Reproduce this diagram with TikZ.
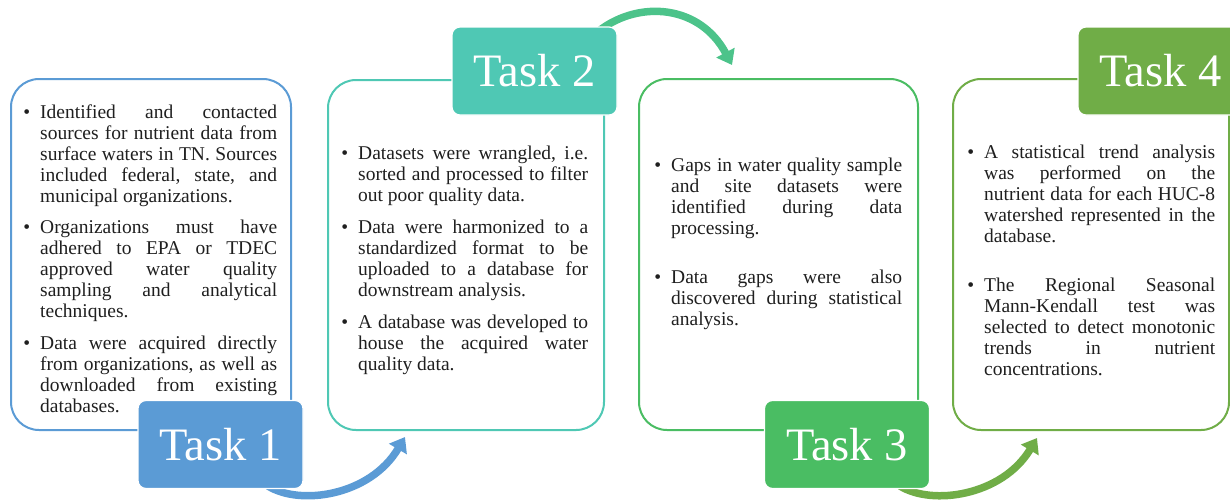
\documentclass[tikz,border=0pt]{standalone}
\usepackage{fontspec}
\setmainfont{Liberation Serif}
\usetikzlibrary{arrows.meta}

\definecolor{tblue}{HTML}{5B9BD5}
\definecolor{tteal}{HTML}{4FC8B4}
\definecolor{tmint}{HTML}{4CC38A}
\definecolor{tgreen}{HTML}{4ABD63}
\definecolor{tolive}{HTML}{70AD47}
\definecolor{ink}{HTML}{1F1F1F}

% one bulleted paragraph with a hanging indent
\newcommand\bitem[1]{\par\noindent\hangindent=15pt\hangafter=0
  \llap{\textbullet\hspace{10pt}}\rule{0pt}{15pt}#1\par}

\begin{document}
\begin{tikzpicture}[x=1pt,y=-1pt,
  panel/.style={draw=#1, line width=2pt, rounded corners=28pt, anchor=north west,
    inner sep=0pt, fill=white},
  body/.style={anchor=north west, inner sep=0pt, text width=#1, align=justify,
    text=ink, font=\fontsize{19.5pt}{21pt}\selectfont},
  tasklabel/.style={fill=#1, draw=white, line width=1.2pt, rounded corners=8pt,
    minimum width=165pt, minimum height=88pt, inner sep=0pt, text=white,
    font=\fontsize{46.5pt}{50pt}\selectfont},
  flow/.style={draw=#1, line width=7.5pt, -{Triangle[width=20pt,length=14pt]}}
]
\useasboundingbox (0,0) rectangle (1230,499);
\frenchspacing\tolerance=10000\hbadness=10000\hyphenpenalty=10000

% panels
\node[panel=tblue,  minimum width=280pt, minimum height=351pt] (p1) at (10,78) {};
\node[panel=tteal,  minimum width=276pt, minimum height=350pt] (p2) at (327,79) {};
\node[panel=tgreen, minimum width=279pt, minimum height=351pt] (p3) at (638,78) {};
\node[panel=tolive, minimum width=276pt, minimum height=351pt] (p4) at (952,78) {};

% panel texts (node x = bullet column, text starts 15pt further right)
\node[body=252pt] (x1) at (25,97) {%
\bitem{Identified and contacted\linebreak sources for nutrient data from\linebreak surface waters in TN. Sources\linebreak included federal, state, and\linebreak municipal organizations.}
\vskip10.5pt
\bitem{Organizations must have\linebreak adhered to EPA or TDEC\linebreak approved water quality\linebreak sampling and analytical\linebreak techniques.}
\vskip10.5pt
\bitem{Data were acquired directly\linebreak from organizations, as well as\linebreak downloaded from existing\linebreak databases.}};

\node[body=245pt] (x2) at (343,138) {%
\bitem{Datasets were wrangled, i.e.\linebreak sorted and processed to filter\linebreak out poor quality data.}
\vskip11pt
\bitem{Data were harmonized to a\linebreak standardized format to be\linebreak uploaded to a database for\linebreak downstream analysis.}
\vskip11pt
\bitem{A database was developed to\linebreak house the acquired water\linebreak quality data.}};

\node[body=246pt] (x3) at (656,150) {%
\bitem{Gaps in water quality sample\linebreak and site datasets were\linebreak identified during data\linebreak processing.}
\vskip28pt
\bitem{Data gaps were also\linebreak discovered during statistical\linebreak analysis.}};

\node[body=246pt] (x4) at (969,137) {%
\bitem{A statistical trend analysis\linebreak was performed on the\linebreak nutrient data for each HUC-8\linebreak watershed represented in the\linebreak database.}
\vskip28pt
\bitem{The Regional Seasonal\linebreak Mann-Kendall test was\linebreak selected to detect monotonic\linebreak trends in nutrient\linebreak concentrations.}};

% curved arrows (their tails sit under the task labels)
\coordinate (a1s) at (268,486);
\coordinate (a1e) at (405,437);
\coordinate (a2s) at (600,30);
\coordinate (a2e) at (732,65);
\coordinate (a3s) at (900,486);
\coordinate (a3e) at (1037,438);
\draw[flow=tblue]  (a1s) .. controls (300,506) and (370,496) .. (a1e);
\draw[flow=tmint]  (a2s) .. controls (640,0) and (700,5) .. (a2e);
\draw[flow=tolive] (a3s) .. controls (932,506) and (1002,496) .. (a3e);

% task labels
\node[tasklabel=tblue]  (t1) at (220.5,444.5) {Task 1};
\node[tasklabel=tteal]  (t2) at (534.5,71)    {Task 2};
\node[tasklabel=tgreen] (t3) at (847,444.5)   {Task 3};
\node[tasklabel=tolive] (t4) at (1160.5,71)   {Task 4};
\end{tikzpicture}
\end{document}
